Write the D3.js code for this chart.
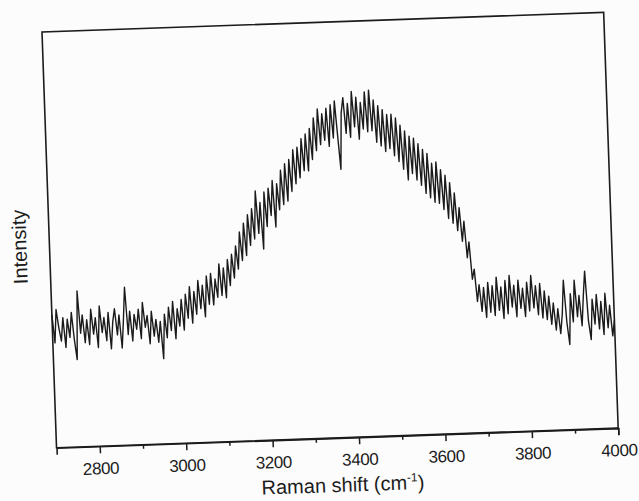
<!DOCTYPE html>
<html>
<head>
<meta charset="utf-8">
<script src="https://cdn.jsdelivr.net/npm/d3@7"></script>
<style>
  html, body { margin: 0; padding: 0; background: #fcfcfc; }
  svg { display: block; }
  text { font-family: "Liberation Sans", Arial, sans-serif; fill: #1c1c1c; }
</style>
</head>
<body>
<div id="chart"></div>
<script>
const shiftStart = 2700;
const shiftStep = 5;
const intensity = [
  32.0, 25.2, 33.2, 28.8, 25.6, 31.2, 24.0, 30.8, 26.4, 32.4,
  25.8, 21.0, 37.5, 27.3, 31.7, 25.0, 30.5, 24.5, 33.0, 27.0,
  30.9, 23.7, 33.7, 27.3, 30.9, 25.3, 32.1, 23.3, 29.7, 32.9,
  26.6, 31.4, 23.4, 30.2, 38.0, 26.6, 32.2, 25.0, 31.4, 27.8,
  32.6, 25.5, 34.2, 28.2, 31.0, 24.2, 32.0, 26.0, 30.0, 24.5,
  29.5, 20.5, 31.2, 25.5, 32.8, 27.2, 34.2, 25.2, 32.4, 28.2,
  34.6, 27.2, 35.8, 30.0, 37.6, 28.8, 36.4, 30.9, 39.0, 32.2,
  37.8, 30.2, 40.0, 33.2, 40.6, 33.0, 39.2, 34.8, 42.8, 35.2,
  41.8, 34.6, 43.8, 37.5, 45.0, 39.3, 47.0, 41.4, 50.3, 43.4,
  52.4, 44.6, 54.4, 47.0, 55.8, 48.5, 60.0, 49.8, 57.2, 46.0,
  59.7, 51.4, 60.6, 54.0, 62.4, 51.2, 61.6, 55.3, 64.8, 56.5,
  66.3, 57.3, 67.3, 59.6, 69.6, 61.4, 70.2, 62.8, 72.2, 64.5,
  73.3, 64.4, 74.6, 67.1, 77.1, 69.2, 79.2, 70.6, 78.0, 71.6,
  79.3, 70.1, 80.1, 72.1, 81.0, 72.7, 64.5, 78.0, 81.7, 73.1,
  80.3, 72.1, 83.1, 74.6, 81.7, 71.6, 80.4, 74.0, 82.9, 73.3,
  83.3, 73.5, 80.9, 70.7, 79.5, 69.8, 78.5, 68.4, 77.3, 69.1,
  77.3, 67.3, 76.4, 65.9, 74.6, 64.0, 73.2, 61.4, 71.9, 62.9,
  71.4, 61.3, 70.0, 60.0, 68.6, 58.0, 67.6, 56.9, 65.2, 55.8,
  65.5, 55.5, 63.6, 54.0, 62.2, 51.8, 60.4, 50.6, 57.9, 48.8,
  54.3, 46.2, 51.0, 42.2, 46.0, 37.0, 39.4, 31.6, 35.6, 29.2,
  34.9, 27.7, 36.1, 28.9, 35.3, 28.1, 37.3, 29.3, 34.9, 27.3,
  36.4, 28.4, 37.6, 30.0, 35.2, 27.6, 36.4, 29.6, 34.4, 27.6,
  35.8, 28.9, 37.4, 29.6, 34.9, 27.9, 35.4, 27.1, 33.6, 26.7,
  32.3, 25.5, 30.6, 24.1, 29.2, 23.2, 27.9, 36.0, 25.8, 20.5,
  32.7, 25.9, 35.9, 27.1, 32.2, 24.9, 32.0, 38.0, 26.0, 21.5,
  31.2, 25.2, 32.3, 24.0, 30.6, 22.6, 32.5, 24.2, 29.6, 22.2,
  26.0
];
const xTicks = [2800, 3000, 3200, 3400, 3600, 3800, 4000];
const xMinorTicks = [2900, 3100, 3300, 3500, 3700, 3900];

const width = 639, height = 501;
const plotW = 562, plotH = 416;

const spectrum = intensity.map((v, i) => ({ shift: shiftStart + i * shiftStep, value: v }));

const svg = d3.select("#chart").append("svg")
  .attr("width", width)
  .attr("height", height);

// the scanned page is slightly tilted
const g = svg.append("g")
  .attr("transform", "translate(42,32) rotate(-2)");

const x = d3.scaleLinear().domain([2700, 4000]).range([0, plotW]);
const y = d3.scaleLinear().domain([0, 100]).range([plotH, 0]);

const line = d3.line()
  .x(d => x(d.shift))
  .y(d => y(d.value));

g.append("path")
  .datum(spectrum)
  .attr("fill", "none")
  .attr("stroke", "#1a1a1a")
  .attr("stroke-width", 1.4)
  .attr("stroke-linejoin", "round")
  .attr("d", line);

// frame
g.append("rect")
  .attr("x", 0).attr("y", 0)
  .attr("width", plotW).attr("height", plotH)
  .attr("fill", "none")
  .attr("stroke", "#1c1c1c")
  .attr("stroke-width", 1.6);

const xAxis = g.append("g")
  .attr("transform", `translate(0,${plotH})`)
  .call(d3.axisBottom(x).tickValues(xTicks).tickSize(7).tickPadding(9).tickFormat(d3.format("d")));

g.append("g")
  .attr("transform", `translate(0,${plotH})`)
  .call(d3.axisBottom(x).tickValues(xMinorTicks).tickSize(4).tickFormat(""))
  .call(a => a.select(".domain").remove());

svg.selectAll(".tick line").attr("stroke", "#1c1c1c").attr("stroke-width", 1.5);
xAxis.select(".domain").attr("stroke", "#1c1c1c").attr("stroke-width", 1.6);
xAxis.selectAll(".tick text")
  .attr("font-size", 17)
  .attr("font-family", "Liberation Sans, Arial, sans-serif")
  .attr("letter-spacing", -0.4)
  .attr("fill", "#1c1c1c");

const title = g.append("text")
  .attr("x", 285)
  .attr("y", plotH + 54)
  .attr("text-anchor", "middle")
  .attr("font-size", 20)
  .text("Raman shift (cm");
title.append("tspan").attr("dy", -8).attr("font-size", 12).text("-1");
title.append("tspan").attr("dy", 8).text(")");

g.append("text")
  .attr("transform", `translate(-23,${plotH / 2 + 6}) rotate(-90)`)
  .attr("text-anchor", "middle")
  .attr("font-size", 20)
  .text("Intensity");
</script>
</body>
</html>
